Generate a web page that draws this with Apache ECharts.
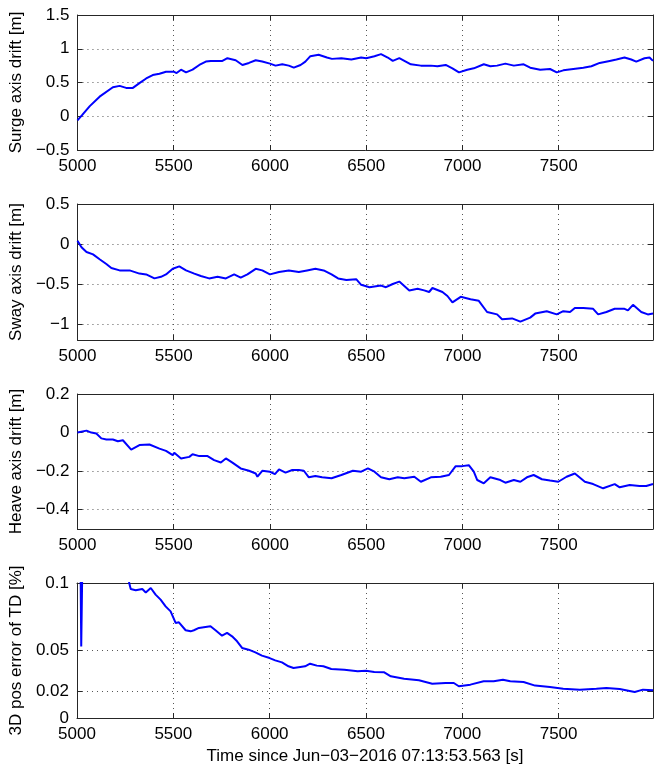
<!DOCTYPE html>
<html lang="en">
<head>
    <meta charset="UTF-8">
    <title>Drift</title>
    <script src="https://cdn.jsdelivr.net/npm/echarts@6/dist/echarts.min.js"></script>
    <style>
        *{
            margin: 0;
            padding: 0;
        }
        html,body{
            width: 100%;
            height: 100%;
            overflow: hidden;
            background: #fff;
        }
        .container{
            width: 654px;
            height: 767px;
        }
    </style>
</head>
<body>
<div class="container"></div>
<script>
    // time ticks shared by all four panels
    const timeTicks = [5000, 5500, 6000, 6500, 7000, 7500];

    // surge axis drift [m]
    const surgeT = [5000, 5025, 5064, 5115, 5184, 5219, 5253, 5288, 5322, 5357, 5391, 5426, 5460, 5500, 5515, 5538, 5564, 5598, 5633, 5667, 5693, 5753, 5779, 5822, 5857, 5891, 5926, 5960, 6000, 6029, 6064, 6098, 6124, 6159, 6184, 6210, 6253, 6296, 6322, 6371, 6423, 6474, 6500, 6543, 6577, 6612, 6638, 6672, 6732, 6784, 6836, 6870, 6913, 6948, 6982, 7025, 7059, 7111, 7145, 7180, 7223, 7267, 7318, 7352, 7404, 7455, 7490, 7524, 7576, 7628, 7670, 7713, 7765, 7800, 7842, 7877, 7903, 7946, 7972, 7990];
    const surge = [-0.06, 0.02, 0.15, 0.29, 0.43, 0.45, 0.42, 0.42, 0.49, 0.56, 0.61, 0.63, 0.66, 0.66, 0.64, 0.69, 0.65, 0.69, 0.76, 0.81, 0.82, 0.82, 0.86, 0.83, 0.76, 0.79, 0.83, 0.81, 0.78, 0.75, 0.77, 0.75, 0.72, 0.76, 0.81, 0.89, 0.91, 0.87, 0.85, 0.86, 0.84, 0.87, 0.86, 0.89, 0.92, 0.87, 0.82, 0.86, 0.77, 0.75, 0.75, 0.74, 0.76, 0.71, 0.65, 0.69, 0.71, 0.77, 0.74, 0.75, 0.78, 0.75, 0.77, 0.72, 0.69, 0.70, 0.65, 0.68, 0.70, 0.72, 0.74, 0.79, 0.82, 0.84, 0.87, 0.84, 0.81, 0.86, 0.87, 0.82];

    // sway axis drift [m]
    const swayT = [5000, 5021, 5047, 5081, 5115, 5150, 5176, 5219, 5271, 5322, 5357, 5400, 5434, 5460, 5495, 5529, 5564, 5607, 5641, 5684, 5728, 5771, 5814, 5848, 5883, 5926, 5960, 6000, 6047, 6098, 6150, 6193, 6236, 6279, 6320, 6354, 6397, 6448, 6474, 6517, 6577, 6603, 6638, 6672, 6724, 6767, 6801, 6827, 6844, 6896, 6922, 6948, 6991, 7042, 7085, 7128, 7180, 7206, 7258, 7301, 7352, 7378, 7438, 7490, 7524, 7559, 7584, 7628, 7679, 7705, 7748, 7791, 7842, 7860, 7886, 7929, 7963, 7990];
    const sway = [0.04, -0.04, -0.10, -0.13, -0.19, -0.25, -0.30, -0.33, -0.33, -0.37, -0.38, -0.43, -0.41, -0.38, -0.31, -0.28, -0.33, -0.37, -0.40, -0.43, -0.41, -0.43, -0.38, -0.42, -0.38, -0.31, -0.33, -0.38, -0.35, -0.33, -0.35, -0.33, -0.31, -0.33, -0.38, -0.43, -0.45, -0.44, -0.51, -0.54, -0.52, -0.54, -0.50, -0.47, -0.58, -0.56, -0.58, -0.60, -0.55, -0.60, -0.65, -0.73, -0.66, -0.69, -0.71, -0.85, -0.88, -0.94, -0.93, -0.97, -0.92, -0.87, -0.84, -0.88, -0.84, -0.85, -0.80, -0.80, -0.81, -0.88, -0.85, -0.81, -0.81, -0.83, -0.76, -0.85, -0.88, -0.87];

    // heave axis drift [m]
    const heaveT = [5000, 5047, 5072, 5098, 5124, 5150, 5184, 5210, 5236, 5279, 5322, 5374, 5426, 5460, 5495, 5503, 5538, 5581, 5598, 5633, 5676, 5710, 5745, 5771, 5805, 5848, 5891, 5926, 5935, 5960, 6000, 6026, 6047, 6081, 6116, 6150, 6176, 6202, 6236, 6271, 6320, 6371, 6431, 6474, 6509, 6543, 6577, 6620, 6664, 6698, 6750, 6784, 6836, 6887, 6930, 6965, 6999, 7033, 7059, 7077, 7111, 7145, 7197, 7223, 7267, 7301, 7335, 7370, 7413, 7455, 7498, 7541, 7584, 7636, 7679, 7731, 7791, 7817, 7869, 7920, 7955, 7990];
    const heave = [0.0, 0.01, 0.0, -0.005, -0.03, -0.036, -0.036, -0.045, -0.04, -0.088, -0.065, -0.062, -0.083, -0.095, -0.117, -0.105, -0.134, -0.126, -0.112, -0.122, -0.122, -0.143, -0.155, -0.134, -0.156, -0.186, -0.198, -0.212, -0.229, -0.198, -0.203, -0.215, -0.191, -0.208, -0.194, -0.194, -0.198, -0.232, -0.225, -0.232, -0.237, -0.22, -0.198, -0.203, -0.186, -0.203, -0.232, -0.242, -0.232, -0.237, -0.229, -0.255, -0.232, -0.229, -0.22, -0.174, -0.174, -0.169, -0.203, -0.246, -0.263, -0.232, -0.246, -0.26, -0.246, -0.255, -0.232, -0.22, -0.242, -0.249, -0.255, -0.229, -0.212, -0.255, -0.267, -0.289, -0.267, -0.284, -0.272, -0.277, -0.277, -0.267];

    // 3D position error of TD [%]
    const errT = [5000, 5012, 5019, 5022, 5027, 5100, 5200, 5265, 5271, 5279, 5305, 5339, 5357, 5383, 5408, 5434, 5460, 5486, 5512, 5529, 5564, 5590, 5607, 5633, 5667, 5693, 5719, 5753, 5779, 5805, 5831, 5857, 5891, 5926, 5960, 6000, 6029, 6064, 6098, 6124, 6159, 6184, 6210, 6245, 6279, 6320, 6388, 6457, 6500, 6543, 6595, 6629, 6698, 6775, 6844, 6913, 6956, 6982, 7042, 7111, 7163, 7211, 7249, 7318, 7378, 7455, 7524, 7610, 7696, 7748, 7817, 7895, 7938, 7990];
    const err = [0.16, 0.14, 0.105, 0.053, 0.105, 0.15, 0.14, 0.11, 0.1, 0.0956, 0.0946, 0.0956, 0.093, 0.0963, 0.0914, 0.0877, 0.0827, 0.079, 0.0704, 0.0709, 0.065, 0.0642, 0.065, 0.0667, 0.0674, 0.0679, 0.065, 0.061, 0.063, 0.0605, 0.0568, 0.0519, 0.0506, 0.0486, 0.0462, 0.0444, 0.0427, 0.0412, 0.0383, 0.037, 0.0378, 0.0383, 0.0402, 0.0388, 0.0383, 0.0363, 0.0358, 0.0346, 0.035, 0.0341, 0.0338, 0.0309, 0.0291, 0.0279, 0.0254, 0.0259, 0.0259, 0.0235, 0.0247, 0.0272, 0.0272, 0.0284, 0.0272, 0.0267, 0.024, 0.023, 0.0217, 0.021, 0.0217, 0.0222, 0.0215, 0.0193, 0.021, 0.0205];

    const panels = [
        {name: 'Surge axis drift [m]', t: surgeT, y: surge, min: -0.5, max: 1.5, ticks: [-0.5, 0, 0.5, 1, 1.5], top: 15, height: 135},
        {name: 'Sway axis drift [m]', t: swayT, y: sway, min: -1.2, max: 0.5, ticks: [-1, -0.5, 0, 0.5], top: 204, height: 136},
        {name: 'Heave axis drift [m]', t: heaveT, y: heave, min: -0.5, max: 0.2, ticks: [-0.4, -0.2, 0, 0.2], top: 394, height: 135},
        {name: '3D pos error of TD [%]', t: errT, y: err, min: 0, max: 0.1, ticks: [0, 0.02, 0.05, 0.1], top: 583, height: 135}
    ];

    const font = "'Liberation Sans', Arial, Helvetica, sans-serif";
    const fontSize = 17;
    const axisColor = '#262626';
    const gridLine = {show: true, lineStyle: {color: '#555', width: 1, type: [1, 4]}};
    const minus = v => String(v).replace('-', '\u2212');

    let chart = echarts.init(document.querySelector('.container'), null, {renderer: 'canvas'});
    let grid = [], xAxis = [], yAxis = [], series = [];

    panels.forEach((p, i) => {
        grid.push({left: 75, right: 1, top: p.top, height: p.height, show: false});
        let last = i === panels.length - 1;
        // bottom x axis with labels
        xAxis.push({
            type: 'value', gridIndex: i, position: 'bottom', min: 5000, max: 7990,
            name: last ? 'Time since Jun\u221203\u22122016 07:13:53.563 [s]' : '',
            nameLocation: 'middle', nameGap: 30,
            nameTextStyle: {fontFamily: font, fontSize: fontSize, color: '#000'},
            axisLine: {show: true, onZero: false, lineStyle: {color: axisColor, width: 1}},
            axisTick: {show: true, inside: true, length: 5, customValues: timeTicks, lineStyle: {color: axisColor}},
            axisLabel: {customValues: timeTicks, fontFamily: font, fontSize: fontSize, color: '#000', margin: 8, formatter: v => String(v)},
            splitLine: gridLine
        });
        // top x axis: box edge and ticks only
        xAxis.push({
            type: 'value', gridIndex: i, position: 'top', min: 5000, max: 7990,
            axisLine: {show: true, onZero: false, lineStyle: {color: axisColor, width: 1}},
            axisTick: {show: true, inside: true, length: 5, customValues: timeTicks, lineStyle: {color: axisColor}},
            axisLabel: {show: false},
            splitLine: {show: false}
        });
        yAxis.push({
            type: 'value', gridIndex: i, position: 'left', min: p.min, max: p.max,
            name: p.name, nameLocation: 'middle', nameRotate: 90, nameGap: 47,
            nameTextStyle: {fontFamily: font, fontSize: fontSize, color: '#000'},
            axisLine: {show: true, onZero: false, lineStyle: {color: axisColor, width: 1}},
            axisTick: {show: true, inside: true, length: 5, customValues: p.ticks, lineStyle: {color: axisColor}},
            axisLabel: {customValues: p.ticks, fontFamily: font, fontSize: fontSize, color: '#000', margin: 8, formatter: minus},
            splitLine: gridLine
        });
        yAxis.push({
            type: 'value', gridIndex: i, position: 'right', min: p.min, max: p.max,
            axisLine: {show: true, onZero: false, lineStyle: {color: axisColor, width: 1}},
            axisTick: {show: true, inside: true, length: 5, customValues: p.ticks, lineStyle: {color: axisColor}},
            axisLabel: {show: false},
            splitLine: {show: false}
        });
        series.push({
            type: 'line', xAxisIndex: i * 2, yAxisIndex: i * 2,
            data: p.t.map((t, k) => [t, p.y[k]]),
            showSymbol: false, clip: true,
            lineStyle: {color: '#0000ff', width: 2},
            itemStyle: {color: '#0000ff'},
            z: 1
        });
    });

    chart.setOption({
        animation: false,
        backgroundColor: '#fff',
        grid, xAxis, yAxis, series
    });
</script>
</body>
</html>
